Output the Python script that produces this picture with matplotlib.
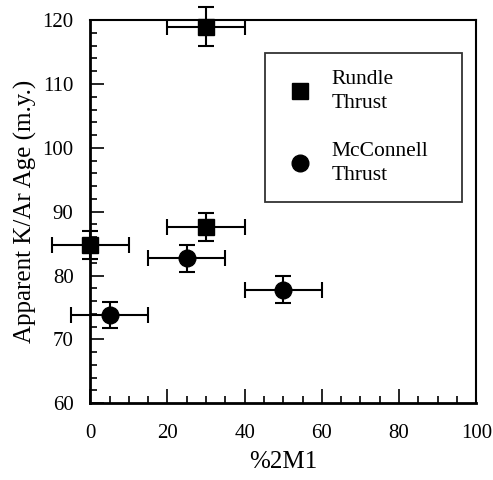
import matplotlib
matplotlib.use('Agg')
import matplotlib.pyplot as plt
from matplotlib.ticker import MultipleLocator

plt.rcParams['font.family'] = ['Liberation Serif', 'DejaVu Serif']

# Rundle Thrust
rundle_x = [30, 0, 30]
rundle_y = [119, 84.8, 87.6]
rundle_xerr = [10, 10, 10]
rundle_yerr = [3, 2.2, 2.2]

# McConnell Thrust
mcc_x = [5, 25, 50]
mcc_y = [73.8, 82.7, 77.8]
mcc_xerr = [10, 10, 10]
mcc_yerr = [2.0, 2.1, 2.1]

fig = plt.figure(figsize=(4.93, 4.8), dpi=100)
ax = fig.add_axes([0.183, 0.160, 0.783, 0.798])

ax.errorbar(rundle_x, rundle_y, xerr=rundle_xerr, yerr=rundle_yerr,
            fmt='s', color='black', markersize=12, elinewidth=1.5,
            capsize=6, capthick=1.5, label='Rundle\nThrust', clip_on=False, zorder=3)
ax.errorbar(mcc_x, mcc_y, xerr=mcc_xerr, yerr=mcc_yerr,
            fmt='o', color='black', markersize=12, elinewidth=1.5,
            capsize=6, capthick=1.5, label='McConnell\nThrust', clip_on=False, zorder=3)

ax.set_xlim(0, 100)
ax.set_ylim(60, 120)
ax.xaxis.set_major_locator(MultipleLocator(20))
ax.xaxis.set_minor_locator(MultipleLocator(5))
ax.yaxis.set_major_locator(MultipleLocator(10))
ax.yaxis.set_minor_locator(MultipleLocator(2))
ax.tick_params(which='both', direction='in', top=False, right=False,
               labelsize=15, width=1.2)
ax.tick_params(which='major', length=10)
ax.tick_params(which='minor', length=5)
ax.tick_params(axis='y', which='major', pad=12)
ax.tick_params(axis='x', which='major', pad=15)

for s in ['left', 'bottom']:
    ax.spines[s].set_linewidth(2)
for s in ['top', 'right']:
    ax.spines[s].set_linewidth(1.5)

ax.set_xlabel('%2M1', fontsize=18, labelpad=6)
ax.set_ylabel('Apparent K/Ar Age (m.y.)', fontsize=18, labelpad=4)

# legend without error bars in handles, stretched to the box width
h, l = ax.get_legend_handles_labels()
handles = [hh[0] for hh in h]
leg = ax.legend(handles, l, loc='upper left', bbox_to_anchor=(0.453, 0.5, 0.511, 0.414),
                mode='expand', fontsize=15.5, frameon=True, fancybox=False,
                edgecolor='black', borderpad=0.8, labelspacing=1.35,
                handletextpad=0.67, handlelength=1.6, borderaxespad=0)
leg.get_frame().set_linewidth(1.3)
for t in leg.get_texts():
    t.set_linespacing(1.35)

fig.savefig('out.png', dpi=100)
